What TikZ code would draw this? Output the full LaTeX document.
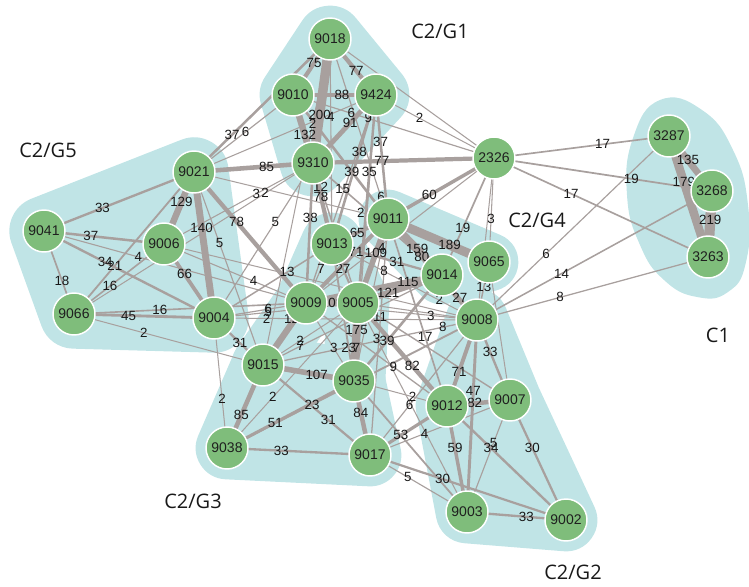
\documentclass[tikz,border=0pt]{standalone}
\usepackage{fontspec}
\setmainfont{Liberation Sans}
\newfontfamily\grpfont{Open Sans}
\definecolor{nodegreen}{RGB}{127,189,123}
\definecolor{edgegrey}{RGB}{168,160,158}
\definecolor{blobteal}{RGB}{192,228,230}
\pgfdeclarelayer{blobs}
\pgfdeclarelayer{links}
\pgfdeclarelayer{tags}
\pgfsetlayers{blobs,links,tags,main}
\tikzset{
  vertex/.style={circle, fill=nodegreen, draw=white, line width=1.1pt,
    minimum size=31.5pt, inner sep=0pt, font=\fontsize{10.5}{12}\selectfont, text=black!88},
  link/.style={draw=edgegrey},
  wlabel/.style={font=\fontsize{10}{11}\selectfont, inner sep=0.5pt, text=black!90},
  hull/.style={draw=blobteal, fill=blobteal, line width=47pt, line join=round, line cap=round},
  tube/.style={draw=blobteal, line width=47pt, line join=round, line cap=round},
  grouplabel/.style={font=\grpfont\fontsize{15}{17}\selectfont, text=black!90}
}
\begin{document}
\begin{tikzpicture}[x=0.75pt, y=-0.75pt]
    \useasboundingbox (0,0) rectangle (749,586);

    % hosts
    \foreach \n/\x/\y in {9018/330/39, 9010/293/95, 9424/376/95, 9310/313/163,
        2326/494/158, 9021/194/172, 9041/44/231, 9006/164/244, 9066/74/314,
        9004/214/318, 9011/388/219, 9013/332/244, 9014/442/275, 9065/489/262,
        9009/306/303, 9005/358/303, 9008/477/320, 9015/263/365, 9035/354/381,
        9012/447/406, 9007/510/400, 9038/227/448, 9017/370/455, 9003/467/512,
        9002/566/520, 3287/669/136, 3268/712/191, 3263/708/257}
        \node[vertex] (n\n) at (\x,\y) {\n};

    % group areas
    \begin{pgfonlayer}{blobs}
        \draw[hull, line width=50pt] (n9018.center) -- (n9424.center) -- (n9310.center) -- (n9010.center) -- cycle;
        \draw[hull, line width=52pt] (n9021.center) -- (n9041.center) -- (n9066.center) -- (n9004.center) -- cycle;
        \draw[hull] (n9015.center) -- (n9038.center) -- (n9017.center) -- (n9035.center) -- cycle;
        \draw[tube] (n9015.center) -- (n9009.center) -- (n9013.center) -- (n9005.center) -- (n9035.center);
        \draw[tube] (n9009.center) -- (n9005.center);
        \draw[hull, line width=44pt] (n9011.center) -- (n9014.center) -- (n9065.center) -- cycle;
        \draw[hull] (n9008.center) -- (n9007.center) -- (n9002.center) -- (n9003.center) -- (n9012.center) -- cycle;
        \fill[blobteal] plot[smooth cycle, tension=0.8] coordinates {(660,100) (702,110) (733,150)
            (748,205) (746,262) (728,292) (697,297) (664,280) (640,245) (627,195) (633,138)};
    \end{pgfonlayer}

    \node[grouplabel] (lblG1) at (440,31) {C2/G1};
    \node[grouplabel] (lblG5) at (48,150) {C2/G5};
    \node[grouplabel] (lblG4) at (537,220) {C2/G4};
    \node[grouplabel] (lblC1) at (718,335) {C1};
    \node[grouplabel] (lblG3) at (193,501) {C2/G3};
    \node[grouplabel] (lblG2) at (573,572) {C2/G2};

    % weighted links: from/to/weight/label position
    \foreach \a/\b/\w/\p in {9018/9010/75/.43, 9018/9424/77/.57, 9018/9310/200/.61,
        9018/9013/4/.38, 9018/9015/2/.26, 9018/9011/6/.88, 9010/9424/88/.59,
        9010/9310/132/.59, 9010/2326/6/.29, 9010/9011/39/.62, 9424/9310/91/.41,
        9424/2326/2/.37, 9424/9009/9/.11, 9424/9013/38/.38, 9424/9011/37/.38,
        9424/9005/35/.37, 9424/9035/7/.885, 9310/2326/77/.38, 9310/9021/85/.39,
        9310/9013/78/.42, 9310/9005/12/.17, 9310/9014/15/.23, 9310/9009/38/.39,
        9310/9004/5/.38, 9310/9006/3/.38, 9310/9066/2/.2, 9021/9041/33/.61,
        9021/9006/129/.42, 9021/9004/140/.38, 9021/9009/78/.38, 9021/9015/5/.37,
        9021/9066/21/.66, 9021/9018/37/.28, 9021/9010/6/.52, 9021/9011/2/.86,
        9041/9006/37/.39, 9041/9066/18/.6, 9041/9004/34/.36, 9041/9009/4/.36,
        9066/9006/16/.4, 9006/9004/66/.41, 9006/9009/4/.63, 9066/9004/45/.39,
        9066/9009/16/.37, 9066/9015/2/.37, 9004/9015/31/.53, 9004/9038/2/.62,
        9004/9009/6/.59, 9004/9005/5/.375, 9004/9008/2/.2, 9004/9013/13/.62,
        9009/9015/128/.25, 9009/9005/100/.5, 9013/9009/7/.42, 9013/9005/27/.42,
        9013/9011/65/.45, 9013/9014/31/.59, 9013/9035/23/.76, 9013/9008/2/.74,
        9009/9035/3/.58, 9009/9014/115/.75, 9009/9008/3/.73, 9009/9012/9/.62,
        9005/9035/175/.35, 9005/9014/121/.36, 9005/9007/11/.145, 9005/9012/82/.61,
        9005/9003/3/.17, 9011/9009/71/.39, 9011/9005/109/.4, 9011/9035/4/.18,
        9011/9017/8/.22, 9011/9014/159/.54, 9011/9065/189/.61, 9011/9008/80/.38,
        9011/9012/17/.63, 9015/9038/85/.6, 9015/9035/107/.59, 9015/9017/31/.61,
        9015/9005/2/.39, 9015/9014/7/.21, 9015/9008/8/.84, 9038/9035/51/.38,
        9038/9008/23/.34, 9038/9005/2/.35, 9038/9017/33/.38, 9035/9017/84/.43,
        9035/9014/39/.375, 9035/9012/2/.63, 9017/9012/53/.4, 9017/9007/4/.39,
        9017/9008/6/.37, 9017/9003/5/.39, 9017/9002/30/.37, 2326/9011/60/.61,
        2326/9014/19/.6, 2326/9065/3/.59, 2326/3287/17/.62, 2326/3268/19/.63,
        2326/3263/17/.36, 9065/9008/13/.43, 9014/9008/27/.51, 9008/9012/71/.6,
        9008/9007/33/.4, 9008/9003/47/.37, 9012/9007/82/.44, 9012/9003/59/.4,
        9007/9003/5/.38, 9012/9002/34/.37, 9007/9002/30/.4, 9003/9002/33/.6,
        9008/3287/6/.36, 9008/3268/14/.36, 9008/3263/8/.36, 3287/3268/135/.44,
        3287/3263/179/.38, 3268/3263/219/.44}{
        \pgfmathsetmacro{\lw}{0.7+0.032*\w}
        \begin{pgfonlayer}{links}
            \draw[link, line width=\lw pt] (n\a.center) -- (n\b.center);
        \end{pgfonlayer}
        \begin{pgfonlayer}{tags}
            \path (n\a.center) -- node[wlabel, pos=\p] {\w} (n\b.center);
        \end{pgfonlayer}
    }

    % links whose weight is not printed
    \begin{pgfonlayer}{links}
    \foreach \a/\b/\w in {9018/2326/3, 9021/9424/3, 9006/9008/2, 9035/9003/20,
        2326/9009/3, 2326/9008/2, 9065/9007/2, 9005/9008/3}{
        \pgfmathsetmacro{\lw}{0.7+0.032*\w}
        \draw[link, line width=\lw pt] (n\a.center) -- (n\b.center);
    }
    \end{pgfonlayer}
\end{tikzpicture}
\end{document}
